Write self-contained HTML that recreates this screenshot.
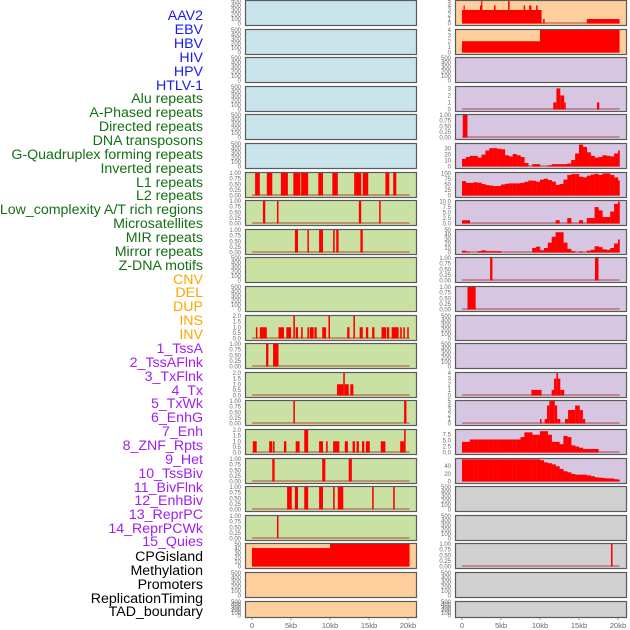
<!DOCTYPE html>
<html><head><meta charset="utf-8"><style>
body{margin:0;background:#fff;width:630px;height:630px;overflow:hidden;font-family:"Liberation Sans",sans-serif}
svg{display:block}
</style></head><body>
<svg id="c" width="630" height="630" xmlns="http://www.w3.org/2000/svg"></svg>
<script>
const NS="http://www.w3.org/2000/svg";
const trackLabels=["AAV2","EBV","HBV","HIV","HPV","HTLV-1","Alu repeats","A-Phased repeats","Directed repeats","DNA transposons","G-Quadruplex forming repeats","Inverted repeats","L1 repeats","L2 repeats","Low_complexity A/T rich regions","Microsatellites","MIR repeats","Mirror repeats","Z-DNA motifs","CNV","DEL","DUP","INS","INV","1_TssA","2_TssAFlnk","3_TxFlnk","4_Tx","5_TxWk","6_EnhG","7_Enh","8_ZNF_Rpts","9_Het","10_TssBiv","11_BivFlnk","12_EnhBiv","13_ReprPC","14_ReprPCWk","15_Quies","CPGisland","Methylation","Promoters","ReplicationTiming","TAD_boundary"];
const labelColors=["#1a1aee","#1a1aee","#1a1aee","#1a1aee","#1a1aee","#1a1aee","#137013","#137013","#137013","#137013","#137013","#137013","#137013","#137013","#137013","#137013","#137013","#137013","#137013","#ffa500","#ffa500","#ffa500","#ffa500","#ffa500","#a020f0","#a020f0","#a020f0","#a020f0","#a020f0","#a020f0","#a020f0","#a020f0","#a020f0","#a020f0","#a020f0","#a020f0","#a020f0","#a020f0","#a020f0","#000","#000","#000","#000","#000"];
const xTicks=[0,5,10,15,20];
const xTickLabels=["0","5kb","10kb","15kb","20kb"];
const T500=[0,100,200,300,400,500];
const T1=[0,0.25,0.5,0.75,1];
const T2=[0,0.5,1,1.5,2];
const leftL1=[[0.4,1.0,1],[1.9,2.6,1],[3.7,4.6,1],[5.3,6.2,1],[6.3,7.2,1],[8.5,9.1,1],[10.3,11.0,1],[13.1,14.0,1],[14.2,14.9,1],[17.1,17.6,1],[18.1,18.5,1]];
const leftL2=[[1.4,1.7,1],[3.2,3.4,1],[13.7,14.0,1],[16.3,16.5,1]];
const leftLow=[[5.5,5.9,1],[7.1,7.3,1],[8.6,9.1,1],[10.4,10.6,1],[10.8,11.1,1],[13.9,14.2,1]];
const leftINS=[[0.5,0.7,1],[1.0,1.9,1],[3.4,4.1,1],[4.4,5.0,1],[5.3,5.5,2],[5.6,5.9,1],[6.3,6.5,1],[7.1,7.3,1],[7.4,7.9,1],[8.0,8.3,1],[9.0,9.5,1],[9.8,10.0,2],[12.2,12.5,1],[13.0,13.2,2],[13.8,14.2,1],[14.6,14.9,1],[15.4,15.7,1],[16.6,17.2,1],[17.3,17.6,1],[17.9,18.8,1],[19.0,19.2,1],[19.4,19.6,1],[19.9,20.1,1]];
const leftTssA=[[1.8,2.1,1],[2.7,3.4,1]];
const leftTx=[[10.9,11.7,1],[11.7,11.9,2],[11.9,12.4,1],[12.6,13.0,1]];
const leftEnhG=[[5.3,5.5,1],[19.5,19.8,1]];
const leftZNF=[[0.1,0.6,1],[2.2,2.6,1],[2.7,2.9,1],[4.1,4.4,1],[5.6,6.1,1],[6.7,7.2,2],[8.6,9.1,1],[9.5,9.7,1],[10.4,11.2,1],[11.9,12.3,1],[12.9,13.2,1],[13.4,13.7,1],[14.1,14.4,1],[14.6,15.1,1],[16.5,17.1,1],[19.0,19.5,1],[19.5,19.7,2]];
const leftHet=[[2.6,2.9,1],[9.0,9.4,1],[12.4,12.8,1]];
const leftBivFlnk=[[4.5,5.1,1],[5.5,5.9,1],[6.7,7.2,1],[8.6,9.1,1],[10.4,10.6,1],[11.0,11.7,1],[15.4,15.6,1],[18.1,18.3,1]];
const leftReprPC=[[3.2,3.4,1]];
const leftCPG=[[0,10,41],[10,20.2,50]];
const rightAAV=[[0,10.2,3],[0.2,0.3,4],[2.3,2.6,4],[2.45,2.6,5],[4.1,4.3,4],[5.9,6.1,5],[7.9,8.1,4],[8.6,8.9,4],[9.5,9.7,4],[10.4,10.6,1],[16.0,20.2,1]];
const rightEBV=[[0,10,2],[10,20.2,4]];
const rightAlu=[[11.7,12.1,1],[12.1,12.6,3],[12.6,13.1,2],[13.1,13.3,1],[17.3,17.6,1]];
const rightAPhased=[[0.1,0.7,1]];
const rightZDNA=[[3.6,3.9,1],[17.05,17.5,1]];
const rightCNV=[[0.7,1.75,1]];
const rightTx=[[8.9,10.2,1],[11.5,11.8,1],[11.8,12.1,3],[12.1,12.3,4],[12.3,12.6,3],[12.6,13.1,1]];
const rightTxWk=[[10.0,10.2,1],[10.6,10.9,1],[10.9,11.2,4],[11.2,11.9,5],[11.9,12.2,4],[12.2,12.6,1],[13.2,13.6,1],[13.6,14.5,3],[14.5,15.1,4],[15.1,15.5,3],[15.5,15.8,1]];
const rightMeth=[[19.1,19.3,1]];
const gquadBins=[13,16,18,18,15,20,27,31,31,30,29,19,17,21,19,16,6,0,4,4,0,0,2,4,4,4,4,5,11,22,37,33,24,18,15,16,19,18,17,22,27];
const invertedBins=[65,57,57,60,58,52,47,45,43,43,50,53,55,55,55,57,62,68,67,62,72,76,70,63,48,52,72,93,97,97,85,82,90,95,98,93,100,100,93,82,68];
const l1Bins=[1.5,1.5,0,0,0,0,0,0,0,0,0,0,0,0,0,0,0,0,0,0,0,0,0,0,1.5,0,0,2.5,0,0,1.5,0,2.5,2.5,7.5,6,3,3,5.5,9,10];
const l2Bins=[4,2,0,0,3,5,3,3,3,3,0,0,0,0,0,0,0,0,10,13,5,10,22,35,45,45,22,8,3,0,2,0,4,6,14,12,7,6,10,20,29];
const enhBins=[4.5,4.5,5.5,5.5,5.5,5.5,5.5,5.5,5.5,5.5,5.5,5.5,5.5,5.5,5.5,6.5,8.5,8.5,7.5,7.5,9,9,7.5,4.5,4.5,3.5,7,6.5,3,2.5,2,1.5,1.5,1.5,1.5,0,0,0,0,0,0];
const znfBins=[58,58,58,58,58,58,58,58,58,58,58,58,58,58,58,58,58,58,58,58,56,50,48,45,40,33,27,24,20,18,18,18,16,14,11,10,9,8,8,6,5];

const BLUE="#c8e3ea",GREEN="#c9e1a3",ORANGE="#fecf9c",PURPLE="#d6c6e2",GREY="#d0d0d0";
const panels=[
["L",0,BLUE,500,T500,null,null,null,"aav2"],["L",1,BLUE,500,T500,null,null,null,"ebv"],["L",2,BLUE,500,T500,null,null,null,"hbv"],
["L",3,BLUE,500,T500,null,null,null,"hiv"],["L",4,BLUE,500,T500,null,null,null,"hpv"],["L",5,BLUE,500,T500,null,null,null,"htlv"],
["L",6,GREEN,1,T1,null,leftL1,null,"r6"],["L",7,GREEN,1,T1,null,leftL2,null,"r7"],["L",8,GREEN,1,T1,null,leftLow,null,"r8"],
["L",9,GREEN,500,T500,null,null,null,"r9"],["L",10,GREEN,500,T500,null,null,null,"r10"],["L",11,GREEN,2,T2,null,leftINS,null,"r11"],
["L",12,GREEN,1,T1,null,leftTssA,null,"r12"],["L",13,GREEN,2,T2,null,leftTx,null,"r13"],["L",14,GREEN,1,T1,null,leftEnhG,null,"r14"],
["L",15,GREEN,2,T2,null,leftZNF,null,"r15"],["L",16,GREEN,1,T1,null,leftHet,null,"r16"],["L",17,GREEN,1,T1,null,leftBivFlnk,null,"r17"],
["L",18,GREEN,1,T1,null,leftReprPC,null,"r18"],["L",19,ORANGE,50,[0,10,20,30,40,50],null,leftCPG,null,"r19"],
["L",20,ORANGE,500,T500,null,null,null,"r20"],["L",21,ORANGE,500,T500,null,null,null,"r21"],
["R",0,ORANGE,5,[0,1,2,3,4,5],null,rightAAV,null,"r0"],["R",1,ORANGE,4,[0,1,2,3,4],null,rightEBV,null,"r1"],
["R",2,PURPLE,500,T500,null,null,null,"r2"],["R",3,PURPLE,3.2,[0,1,2,3],null,rightAlu,null,"r3"],
["R",4,PURPLE,1,T1,null,rightAPhased,null,"r4"],["R",5,PURPLE,38,[0,10,20,30],null,null,gquadBins,"r5"],
["R",6,PURPLE,102,[0,25,50,75,100],null,null,invertedBins,"r6"],["R",7,PURPLE,10.3,[0,2.5,5,7.5,10],["0.0","2.5","5.0","7.5","10.0"],null,l1Bins,"r7"],
["R",8,PURPLE,50,[0,10,20,30,40,50],null,null,l2Bins,"r8"],["R",9,PURPLE,1,T1,null,rightZDNA,null,"r9"],
["R",10,PURPLE,1,T1,null,rightCNV,null,"r10"],["R",11,PURPLE,500,T500,null,null,null,"r11"],
["R",12,PURPLE,500,T500,null,null,null,"r12"],["R",13,PURPLE,4,[0,1,2,3,4],null,rightTx,null,"r13"],
["R",14,PURPLE,5,[0,1,2,3,4,5],null,rightTxWk,null,"r14"],["R",15,PURPLE,9.5,[0,2.5,5,7.5],["0.0","2.5","5.0","7.5"],null,enhBins,"r15"],
["R",16,PURPLE,59,[0,20,40],null,null,znfBins,"r16"],["R",17,GREY,500,T500,null,null,null,"r17"],
["R",18,GREY,500,T500,null,null,null,"r18"],["R",19,GREY,1,T1,null,rightMeth,null,"r19"],
["R",20,GREY,500,T500,null,null,null,"r20"],["R",21,GREY,500,T500,null,null,null,"r21"]
];
const svg=document.getElementById('c');
function mk(tag,attrs,parent){const e=document.createElementNS(NS,tag);for(const k in attrs)e.setAttribute(k,attrs[k]);(parent||svg).appendChild(e);return e;}
function fmt(v,t){if(t===T1)return v.toFixed(2);if(t===T2)return v.toFixed(1);return String(v);}
const labelY=[15,29,43,57,71,85,98,112,126,140,154,168,182,195,209,223,237,251,265,279,292,306,320,334,348,362,376,390,403,417,431,445,459,473,487,500,514,528,541,556,570,584,598,611];
trackLabels.forEach((t,i)=>{
  const e=mk('text',{x:203,y:labelY[i]+5,'text-anchor':'end','font-size':'14.2',fill:labelColors[i]});
  e.textContent=t;
  
  
});
panels.forEach(p=>{
  const [side,row,bg,max,ticks,tl,segs,bins,name]=p;
  const left=side==="L"?245:455, w=171, x0=left+7, kpx=7.8;
  const top=Math.round(row*28.6), h=row===21?16:25, bottom=top+h;
  const xs=k=>x0+k*kpx;
  const ys=v=>bottom-1.5-(v/max)*(h-2.5);
  const g=mk('g',{});
  
  
  mk('rect',{x:left+0.5,y:top+0.5,width:w,height:h,fill:bg,stroke:'#5a5a5a','stroke-width':1.2},g);
  ticks.forEach((v,i)=>{
    const t=mk('text',{x:left-4,y:ys(v)+2,'text-anchor':'end','font-size':'6','fill':'#6a6a6a'},g);
    t.textContent=tl?tl[i]:fmt(v,ticks);
    
    
  });
  if(segs||bins){
    mk('line',{x1:xs(0),x2:xs(20.2),y1:ys(0)-0.5,y2:ys(0)-0.5,stroke:'rgba(170,40,40,0.55)','stroke-width':1.5},g);
  }
  if(segs){segs.forEach(s=>{
    const r=mk('rect',{x:xs(s[0]),y:ys(s[2]),width:Math.max(1.2,xs(s[1])-xs(s[0])),height:ys(0)-ys(s[2]),fill:'#ff0000'},g);
    
    
  });}
  if(bins){bins.forEach((v,i)=>{
    if(v<=0)return;
    const r=mk('rect',{x:xs(i*0.5),y:ys(v),width:xs(Math.min(20.2,(i+1)*0.5))-xs(i*0.5)+0.2,height:ys(0)-ys(v),fill:'#ff0000'},g);
    
    
  });}
});
["L","R"].forEach(side=>{
  const x0=(side==="L"?245:455)+7;
  xTicks.forEach((k,i)=>{
    const x=x0+k*7.8;
    mk('line',{x1:x,x2:x,y1:618,y2:620,stroke:'#888','stroke-width':0.8});
    const t=mk('text',{x:x,y:628,'text-anchor':'middle','font-size':'7.5',fill:'#666'});
    t.textContent=xTickLabels[i];
    
    
  });
});
</script>
</body></html>
